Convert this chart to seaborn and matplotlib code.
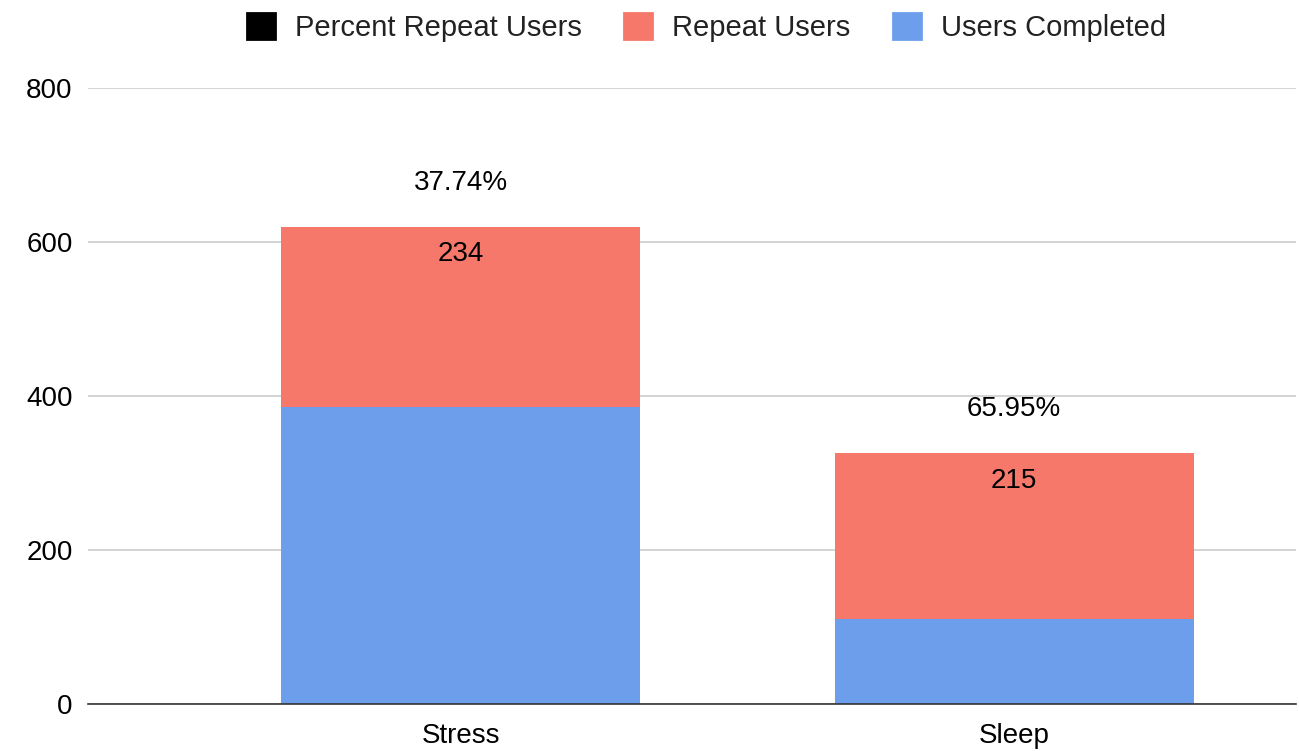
import matplotlib
matplotlib.use("Agg")
import matplotlib.pyplot as plt
from matplotlib.patches import Patch
import seaborn as sns
import pandas as pd

categories = ["Stress", "Sleep"]
users_completed = [386, 111]
repeat_users = [234, 215]
percent_repeat = ["37.74%", "65.95%"]

blue = "#6d9eeb"
red = "#f6786a"

sns.set_theme(style="white")
plt.rcParams["font.family"] = ["Liberation Sans", "DejaVu Sans"]

totals = [a + b for a, b in zip(users_completed, repeat_users)]
df = pd.DataFrame({"cat": categories, "done": users_completed, "total": totals})

fig = plt.figure(figsize=(12.99, 7.51), dpi=100)
ax = fig.add_axes([0.0677, 0.0626, 0.930, 0.8202])

sns.barplot(data=df, x="cat", y="total", color=red, width=0.648, saturation=1,
            linewidth=0, ax=ax)
sns.barplot(data=df, x="cat", y="done", color=blue, width=0.648, saturation=1,
            linewidth=0, ax=ax)

fs = 20
for i, (t, r, p) in enumerate(zip(totals, repeat_users, percent_repeat)):
    ax.text(i, t - 36, str(r), ha="center", va="center", fontsize=fs, color="black")
    ax.text(i, t + 57, p, ha="center", va="center", fontsize=fs, color="black")

ax.set_ylim(0, 800)
ax.set_xlim(-0.673, 1.509)
ax.set_yticks([0, 200, 400, 600, 800])
ax.yaxis.grid(True, color="#cccccc", linewidth=1.2)
ax.set_axisbelow(True)
ax.set_xlabel("")
ax.set_ylabel("")
for s in ["top", "right", "left"]:
    ax.spines[s].set_visible(False)
ax.spines["bottom"].set_color("#333333")
ax.spines["bottom"].set_linewidth(1.2)
ax.tick_params(axis="both", labelsize=fs, colors="black", length=0)
ax.tick_params(axis="y", pad=11)
ax.tick_params(axis="x", pad=14)

handles = [Patch(facecolor=c, edgecolor=c, linewidth=2, joinstyle="round", label=l)
           for c, l in [("black", "Percent Repeat Users"),
                        (red, "Repeat Users"),
                        (blue, "Users Completed")]]
fig.legend(handles=handles, loc="center", bbox_to_anchor=(0.544, 0.963), ncol=3,
           frameon=False, fontsize=21, labelcolor="#222222",
           handlelength=0.95, handleheight=0.95,
           columnspacing=1.45, handletextpad=0.7)

fig.savefig("out.png", dpi=100)
